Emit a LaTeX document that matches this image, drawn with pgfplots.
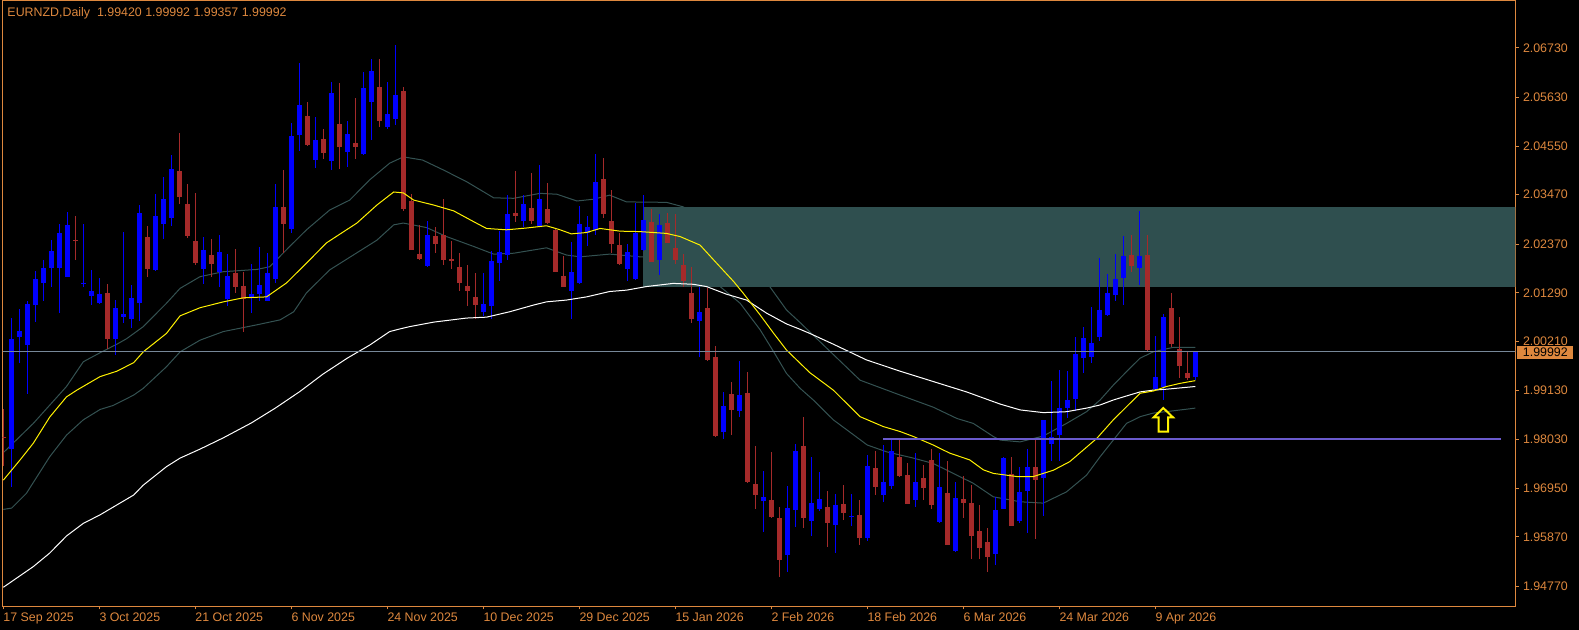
\documentclass[border=0pt]{standalone}
\usepackage{pgfplots}
\usepackage{pgfplotstable}
\pgfplotsset{compat=1.18}
\usepackage{fontspec}
\setmainfont{Liberation Sans}
\newcommand\mtfont{\fontsize{12.4bp}{14bp}\selectfont}
\definecolor{mtorange}{RGB}{222,136,62}
\definecolor{bull}{RGB}{0,0,255}
\definecolor{bear}{RGB}{165,42,42}
\definecolor{zone}{RGB}{47,79,79}
\definecolor{envl}{RGB}{52,82,82}
\definecolor{pline}{RGB}{119,136,153}
\definecolor{hline}{RGB}{106,90,205}

\pgfplotstableread{
i o h l c
1 1.9782 2.0074 1.9697 2.0026
2 2.0032 2.0093 1.9973 2.0044
3 2.0014 2.0111 1.9904 2.0104
4 2.0103 2.0178 2.0065 2.0160
5 2.0150 2.0202 2.0112 2.0184
6 2.0185 2.0246 2.0141 2.0222
7 2.0185 2.0282 2.0085 2.0261
8 2.0165 2.0309 2.0165 2.0280
10 2.0150 2.0282 2.0141 2.0152
11 2.0121 2.0180 2.0101 2.0133
12 2.0107 2.0161 2.0105 2.0127
14 2.0027 2.0113 1.9990 2.0096
15 2.0076 2.0265 2.0063 2.0082
16 2.0070 2.0147 2.0050 2.0118
17 2.0107 2.0324 2.0066 2.0306
19 2.0179 2.0349 2.0177 2.0300
20 2.0283 2.0386 2.0249 2.0337
21 2.0296 2.0435 2.0278 2.0404
25 2.0183 2.0254 2.0149 2.0224
27 2.0176 2.0258 2.0143 2.0220
28 2.0115 2.0216 2.0100 2.0167
31 2.0118 2.0193 2.0085 2.0127
32 2.0127 2.0231 2.0112 2.0146
33 2.0112 2.0218 2.0110 2.0173
34 2.0159 2.0371 2.0150 2.0320
36 2.0270 2.0506 2.0261 2.0478
37 2.0480 2.0640 2.0445 2.0546
39 2.0425 2.0520 2.0407 2.0469
41 2.0422 2.0597 2.0403 2.0572
43 2.0442 2.0511 2.0409 2.0482
45 2.0438 2.0620 2.0435 2.0584
46 2.0554 2.0648 2.0469 2.0622
48 2.0498 2.0597 2.0492 2.0526
49 2.0515 2.0680 2.0502 2.0569
53 2.0188 2.0289 2.0186 2.0257
60 2.0087 2.0173 2.0078 2.0105
61 2.0099 2.0221 2.0072 2.0200
62 2.0196 2.0267 2.0156 2.0220
63 2.0213 2.0346 2.0201 2.0304
65 2.0289 2.0346 2.0276 2.0326
67 2.0278 2.0413 2.0276 2.0338
71 2.0132 2.0243 2.0070 2.0176
72 2.0150 2.0322 2.0148 2.0282
73 2.0261 2.0300 2.0232 2.0275
74 2.0269 2.0437 2.0258 2.0376
78 2.0181 2.0238 2.0156 2.0220
79 2.0160 2.0329 2.0158 2.0262
80 2.0225 2.0346 2.0223 2.0291
82 2.0203 2.0304 2.0169 2.0280
87 2.0067 2.0142 1.9987 2.0087
90 1.9819 1.9909 1.9804 1.9878
92 1.9866 1.9978 1.9853 1.9902
95 1.9666 1.9734 1.9599 1.9676
98 1.9546 1.9700 1.9508 1.9651
99 1.9646 1.9794 1.9610 1.9778
101 1.9623 1.9765 1.9590 1.9662
102 1.9648 1.9731 1.9645 1.9671
104 1.9614 1.9682 1.9552 1.9658
106 1.9632 1.9682 1.9612 1.9634
108 1.9585 1.9769 1.9579 1.9745
110 1.9681 1.9791 1.9665 1.9709
111 1.9701 1.9804 1.9693 1.9778
114 1.9670 1.9773 1.9654 1.9709
117 1.9621 1.9773 1.9619 1.9698
119 1.9555 1.9709 1.9553 1.9673
124 1.9548 1.9676 1.9525 1.9647
125 1.9650 1.9765 1.9649 1.9762
127 1.9623 1.9743 1.9617 1.9687
128 1.9688 1.9782 1.9595 1.9743
130 1.9717 1.9847 1.9634 1.9846
131 1.9794 1.9933 1.9756 1.9809
132 1.9813 1.9958 1.9756 1.9873
133 1.9874 1.9956 1.9852 1.9891
134 1.9893 2.0031 1.9866 1.9993
135 1.9985 2.0053 1.9950 2.0029
136 1.9987 2.0098 1.9973 2.0018
137 2.0032 2.0206 2.0022 2.0091
138 2.0080 2.0171 2.0078 2.0129
139 2.0124 2.0215 2.0110 2.0160
140 2.0163 2.0255 2.0101 2.0211
142 2.0185 2.0311 2.0147 2.0211
144 1.9916 2.0034 1.9914 1.9942
145 1.9919 2.0082 1.9890 2.0076
149 1.99420 1.99992 1.99357 1.99992
}\upc

\pgfplotstableread{
i o h l c
0 1.9809 1.9870 1.9744 1.9807
9 2.0247 2.0300 2.0203 2.0245
13 2.0129 2.0149 2.0005 2.0027
18 2.0253 2.0278 2.0165 2.0181
22 2.0400 2.0484 2.0327 2.0343
23 2.0326 2.0371 2.0252 2.0256
24 2.0244 2.0351 2.0190 2.0196
26 2.0213 2.0249 2.0164 2.0192
29 2.0173 2.0227 2.0128 2.0143
30 2.0145 2.0176 2.0041 2.0115
35 2.0320 2.0402 2.0217 2.0283
38 2.0522 2.0553 2.0456 2.0458
40 2.0471 2.0493 2.0426 2.0440
42 2.0504 2.0595 2.0405 2.0453
44 2.0462 2.0562 2.0427 2.0453
47 2.0586 2.0648 2.0498 2.0511
50 2.0577 2.0586 2.0310 2.0315
51 2.0333 2.0348 2.0224 2.0225
52 2.0215 2.0280 2.0201 2.0205
54 2.0255 2.0276 2.0217 2.0238
55 2.0257 2.0338 2.0190 2.0203
56 2.0205 2.0244 2.0183 2.0201
57 2.0187 2.0218 2.0134 2.0152
58 2.0145 2.0190 2.0101 2.0134
59 2.0120 2.0173 2.0070 2.0103
64 2.0306 2.0400 2.0287 2.0300
66 2.0318 2.0395 2.0283 2.0289
68 2.0315 2.0373 2.0283 2.0285
69 2.0269 2.0274 2.0175 2.0176
70 2.0167 2.0211 2.0142 2.0143
75 2.0382 2.0429 2.0296 2.0305
76 2.0289 2.0357 2.0217 2.0238
77 2.0235 2.0263 2.0191 2.0194
81 2.0287 2.0315 2.0197 2.0198
83 2.0284 2.0306 2.0239 2.0240
84 2.0229 2.0304 2.0194 2.0203
85 2.0191 2.0215 2.0142 2.0156
86 2.0129 2.0187 2.0063 2.0070
88 2.0095 2.0140 1.9978 1.9979
89 1.9987 2.0011 1.9808 1.9812
91 1.9905 1.9931 1.9814 1.9870
93 1.9907 1.9953 1.9707 1.9709
94 1.9705 1.9788 1.9648 1.9681
96 1.9669 1.9776 1.9630 1.9632
97 1.9629 1.9654 1.9497 1.9535
100 1.9788 1.9854 1.9606 1.9628
103 1.9654 1.9689 1.9565 1.9617
105 1.9660 1.9702 1.9625 1.9641
107 1.9636 1.9669 1.9570 1.9585
109 1.9740 1.9778 1.9681 1.9699
112 1.9765 1.9802 1.9721 1.9723
113 1.9725 1.9751 1.9660 1.9661
115 1.9718 1.9747 1.9668 1.9696
116 1.9758 1.9782 1.9650 1.9659
118 1.9685 1.9756 1.9569 1.9570
120 1.9672 1.9722 1.9630 1.9663
121 1.9662 1.9702 1.9539 1.9590
122 1.9600 1.9658 1.9537 1.9563
123 1.9576 1.9607 1.9510 1.9543
126 1.9727 1.9765 1.9611 1.9612
129 1.9743 1.9802 1.9583 1.9714
141 2.0213 2.0258 2.0175 2.0189
143 2.0213 2.0258 1.9997 2.0001
146 2.0096 2.0129 2.0008 2.0016
147 2.0004 2.0076 1.9939 1.9967
148 1.9952 1.9997 1.9936 1.9939
}\dnc

\pgfplotstableread{
x y
0 1.9713
2.1 1.9758
3.75 1.9795
5.8 1.9853
7.9 1.9898
9.2 1.9913
12.1 1.9943
14.2 1.9955
16.3 1.9974
17.5 1.9998
20.4 2.0039
22.1 2.0078
24.6 2.0096
27.5 2.0109
30 2.0118
32.9 2.0120
35.4 2.0151
37.9 2.0195
40.4 2.0240
42.9 2.0269
44.2 2.0284
46.7 2.0324
48.8 2.0353
50 2.0351
51.3 2.0335
53.8 2.0324
56.3 2.0311
58.8 2.0287
60.4 2.0272
62.9 2.0269
65.4 2.0273
67.9 2.0278
69.6 2.0269
71 2.0260
72.9 2.0263
74.6 2.0272
77.1 2.0266
79.6 2.0265
82.9 2.0261
84.6 2.0254
87.1 2.0235
88.8 2.0202
91.3 2.0154
92.5 2.0128
94.6 2.0080
96.3 2.0039
97.9 2.0002
100.8 1.9952
103.75 1.9913
107.1 1.9854
110 1.9832
112.1 1.9821
113.75 1.9810
116.25 1.9791
118.3 1.9773
120.8 1.9758
122.5 1.9736
123.75 1.9728
126.7 1.9721
128.75 1.9721
131.25 1.9735
133.3 1.9754
135 1.9780
136.7 1.9806
138.75 1.9847
140.4 1.9876
142.1 1.9906
143.75 1.9911
145.4 1.9921
147.1 1.9928
149 1.9934
}\yel

\pgfplotstableread{
x y
0 1.9774
3.75 1.9839
7.9 1.9921
10 1.9976
12.1 1.9996
14.2 2.0015
15.4 2.0027
17.5 2.0054
20.4 2.0106
22.1 2.0139
24.6 2.0165
27.5 2.0176
31.7 2.0181
33.3 2.0187
35.8 2.0232
37.9 2.0269
40.8 2.0313
43.3 2.0335
45.8 2.0380
48.3 2.0417
50 2.0431
52.4 2.0424
55 2.0402
57.9 2.0376
61.3 2.0340
63.8 2.0339
67.1 2.0350
69.2 2.0348
71.7 2.0333
73.8 2.0337
75.8 2.0346
77.9 2.0331
82.9 2.0330
85 2.0320
88 2.0286
91.3 2.0231
94 2.0180
95.8 2.0143
97.9 2.0091
99.6 2.0063
103.4 1.9998
107.1 1.9935
112.1 1.9902
116.25 1.9875
119.2 1.9850
121.25 1.9839
123.75 1.9810
124.6 1.9802
127.1 1.9798
130 1.9811
132.9 1.9839
135.4 1.9865
137.1 1.9891
138.75 1.9924
140.4 1.9954
142.1 1.9984
143.75 1.9998
146.25 2.0008
149 2.0008
}\upp

\pgfplotstableread{
x y
0 1.9648
1.05 1.9651
2.9 1.9684
5.8 1.9765
7.9 1.9813
10 1.9847
12.1 1.9870
13.75 1.9879
16.3 1.9902
17.5 1.9917
20.4 1.9965
22.1 1.9998
24.6 2.0024
27.5 2.0043
31.7 2.0058
34.6 2.0069
36.3 2.0087
37.9 2.0129
40.8 2.0180
44.2 2.0218
46.7 2.0246
48.8 2.0280
50 2.0284
52.9 2.0274
55.4 2.0254
58.8 2.0232
61.3 2.0215
63.8 2.0217
67.9 2.0229
70.4 2.0213
72.1 2.0209
75.8 2.0215
79.6 2.0209
84 2.0206
87 2.0184
89.6 2.0143
92.1 2.0106
94.6 2.0047
96.3 1.9998
97.9 1.9950
99.6 1.9917
101.25 1.9891
103.75 1.9847
108 1.9791
110.4 1.9776
113.75 1.9762
116.25 1.9750
118.75 1.9728
121.25 1.9706
123.75 1.9676
127.1 1.9665
130 1.9662
132.9 1.9687
135.4 1.9724
137.1 1.9765
138.75 1.9802
140.4 1.9839
142.1 1.9854
143.75 1.9862
146.25 1.9867
149 1.9873
}\low

\pgfplotstableread{
x y
0 1.9475
3.75 1.9521
5.8 1.9551
7.9 1.9589
10 1.9617
12.1 1.9636
14.2 1.9658
16.3 1.9680
17.5 1.9702
20.4 1.9743
22.1 1.9762
24.6 1.9782
27.5 1.9807
31 1.9840
34 1.9873
37 1.9909
40 1.9949
43 1.9984
45.8 2.0013
48.3 2.0043
49.6 2.0049
50.8 2.0054
53.8 2.0064
57.9 2.0073
60.4 2.0075
63.3 2.0087
66.3 2.0102
67.9 2.0109
70.4 2.0113
72.9 2.0120
75.8 2.0132
77.9 2.0135
80.4 2.0143
83.75 2.0150
86.25 2.0148
87.9 2.0143
90.4 2.0126
92.9 2.0113
95.4 2.0084
97.9 2.0060
99.6 2.0048
100.8 2.0039
103.75 2.0015
107.9 1.9980
112.1 1.9955
116.25 1.9932
120.4 1.9909
124.6 1.9882
127.1 1.9869
130 1.9863
132.9 1.9865
135.4 1.9873
137.1 1.9880
138.75 1.9891
140.4 1.9900
142.1 1.9909
143.75 1.9913
145.4 1.9915
149 1.9921
}\wht

\begin{document}
\begin{tikzpicture}
\useasboundingbox (0,0) rectangle (1579bp,630bp);
\fill[black] (0,0) rectangle (1579bp,630bp);
\begin{axis}[
  at={(2.7bp,24bp)}, anchor=south west,
  width=1512.6bp, height=605bp, scale only axis,
  xmin=-0.075, xmax=189, ymin=1.94335, ymax=2.07772,
  axis line style={draw=mtorange, line width=1bp},
  tick style={draw=mtorange, line width=1bp},
  tick align=outside, major tick length=3.5bp,
  xtick pos=bottom, ytick pos=right, yticklabel pos=right,
  xtick={0,12,...,144},
  xticklabels={17 Sep 2025,3 Oct 2025,21 Oct 2025,6 Nov 2025,24 Nov 2025,10 Dec 2025,29 Dec 2025,15 Jan 2026,2 Feb 2026,18 Feb 2026,6 Mar 2026,24 Mar 2026,9 Apr 2026},
  ytick={2.06730,2.05630,2.04550,2.03470,2.02370,2.01290,2.00210,1.99130,1.98030,1.96950,1.95870,1.94770},
  yticklabels={2.06730,2.05630,2.04550,2.03470,2.02370,2.01290,2.00210,1.99130,1.98030,1.96950,1.95870,1.94770},
  xticklabel style={anchor=north west, inner sep=0pt, font=\mtfont, text=mtorange, yshift=-3bp},
  yticklabel style={anchor=west, inner sep=0pt, font=\mtfont, text=mtorange, xshift=4bp},
  /pgf/number format/assume math mode=true,
  clip=true,
]
% envelope lines (same hue as zone)
\addplot[envl, line width=1bp] table[x=x,y=y] {\upp};
\addplot[envl, line width=1bp] table[x=x,y=y] {\low};
% resistance zone
\fill[zone] (axis cs:80,2.01426) rectangle (axis cs:190,2.03197);
% wicks
\addplot[draw=none, error bars/.cd, y dir=both, y explicit, error mark=none,
  error bar style={draw=bull, line width=1bp}]
  table[x=i, y expr={(\thisrow{h}+\thisrow{l})/2}, y error expr={(\thisrow{h}-\thisrow{l})/2}] {\upc};
\addplot[draw=none, error bars/.cd, y dir=both, y explicit, error mark=none,
  error bar style={draw=bear, line width=1bp}]
  table[x=i, y expr={(\thisrow{h}+\thisrow{l})/2}, y error expr={(\thisrow{h}-\thisrow{l})/2}] {\dnc};
% bodies
\addplot[draw=none, error bars/.cd, y dir=both, y explicit, error mark=none,
  error bar style={draw=bull, line width=5bp}]
  table[x=i, y expr={(\thisrow{o}+\thisrow{c})/2}, y error expr={abs(\thisrow{c}-\thisrow{o})/2}] {\upc};
\addplot[draw=none, error bars/.cd, y dir=both, y explicit, error mark=none,
  error bar style={draw=bear, line width=5bp}]
  table[x=i, y expr={(\thisrow{o}+\thisrow{c})/2}, y error expr={abs(\thisrow{c}-\thisrow{o})/2}] {\dnc};
% moving averages
\addplot[white, line width=1bp] table[x=x,y=y] {\wht};
\addplot[yellow, line width=1bp] table[x=x,y=y] {\yel};
% current price line and level line
\addplot[pline, line width=1bp] coordinates {(-1,1.99992) (190,1.99992)};
\addplot[hline, line width=2bp] coordinates {(110,1.9805) (187.2,1.9805)};
% arrow
\draw[yellow, line width=2bp, line join=miter]
  (axis cs:145.0,1.98732) -- (axis cs:146.2,1.98526) -- (axis cs:145.6,1.98526)
  -- (axis cs:145.6,1.98206) -- (axis cs:144.42,1.98206) -- (axis cs:144.42,1.98526)
  -- (axis cs:143.8,1.98526) -- cycle;
\end{axis}
\node[anchor=west, inner sep=0pt, text=mtorange, font=\mtfont] at (7.3bp,616.7bp)
  {EURNZD,Daily\ \ 1.99420 1.99992 1.99357 1.99992};
\fill[mtorange] (1516.7bp,271bp) rectangle (1572.7bp,284.4bp);
\node[anchor=west, inner sep=0pt, text=black, font=\mtfont] at (1522.7bp,277.7bp) {1.99992};
\end{tikzpicture}
\end{document}
